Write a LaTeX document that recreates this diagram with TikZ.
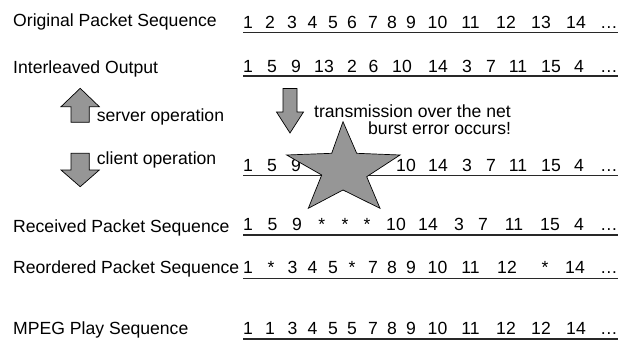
\documentclass[tikz,border=0pt]{standalone}
\usepackage{fontspec}
\setmainfont{Liberation Sans}
\definecolor{fillgray}{RGB}{150,150,150}
\definecolor{rulegray}{RGB}{40,40,40}
\begin{document}
\begin{tikzpicture}[x=1pt,y=-1pt,
  lbl/.style={anchor=base west, inner sep=0pt, font=\fontsize{17.6}{20}\selectfont},
  num/.style={anchor=base, inner sep=0pt, font=\fontsize{17.6}{20}\selectfont},
  rule/.style={line width=1.3pt, draw=rulegray},
  shapefill/.style={fill=fillgray, draw=black, line width=0.7pt, line join=miter}]
\useasboundingbox (0,0) rectangle (628,343);

% labels
\node[lbl] (lorig) at (13,26) {Original Packet Sequence};
\node[lbl] (linter) at (13,73.5) {Interleaved Output};
\node[lbl] (lrecv) at (13,232.7) {Received Packet Sequence};
\node[lbl] (lreord) at (13,273.3) {Reordered Packet Sequence};
\node[lbl] (lmpeg) at (13,334.3) {MPEG Play Sequence};

% row 1
\foreach \x/\t [count=\i] in {248/1,270/2,292/3,312.5/4,333/5,352/6,373/7,392/8,411/9,437.5/10,470.5/11,506/12,541/13,576/14,609/…}
  \node[num] (ra\i) at (\x,28) {\t};
% row 2
\foreach \x/\t [count=\i] in {248/1,272/5,296/9,324/13,352/2,373.5/6,402/10,438/14,467/3,491/7,518/11,551/15,579/4,609/…}
  \node[num] (rb\i) at (\x,72) {\t};
% row 3 (network)
\foreach \x/\t [count=\i] in {248/1,272/5,296/9,324/13,352/2,374/6,406/10,438/14,467/3,491/7,518/11,551/15,579/4,609/…}
  \node[num] (rc\i) at (\x,171.5) {\t};
% row 4
\foreach \x/\t [count=\i] in {248/1,272.5/5,297/9,321.7/*,345/*,367/*,396/10,428/14,459/3,483/7,514/11,550/15,579/4,609/…}
  \node[num] (rd\i) at (\x,230) {\t};
% row 5
\foreach \x/\t [count=\i] in {248/1,271/*,292.5/3,312.5/4,333/5,352/*,373/7,392/8,411/9,437.5/10,470.5/11,507/12,545/*,575/14,609/…}
  \node[num] (re\i) at (\x,273) {\t};
% row 6
\foreach \x/\t [count=\i] in {248/1,270/1,292.5/3,312.5/4,333/5,352/5,373/7,392/8,411/9,437.5/10,470.5/11,506/12,541/12,576/14,609/…}
  \node[num] (rf\i) at (\x,334) {\t};

% underlines
\foreach \y [count=\i] in {32.3,76,175.7,235,278.3,339} {
  \coordinate (ls\i) at (243.3,\y);
  \coordinate (le\i) at (617.7,\y);
  \draw[rule] (ls\i) -- (le\i);
}

% arrows
\draw[shapefill] (71,122.3) -- (71,106.7) -- (61,106.7) -- (80.2,88.3) -- (99.3,106.7) -- (89.3,106.7) -- (89.3,122.3) -- cycle;
\draw[shapefill] (71,153.3) -- (89.3,153.3) -- (89.3,170) -- (99.3,170) -- (80.2,186.7) -- (61,170) -- (71,170) -- cycle;
\draw[shapefill] (283,88.5) -- (297,88.5) -- (297,112) -- (303.5,112) -- (290,133) -- (276.5,112) -- (283,112) -- cycle;

% texts
\node[lbl] (tserver) at (96.7,121) {server operation};
\node[lbl] (tclient) at (96.7,164.3) {client operation};
\node[lbl] (ttrans) at (314,117) {transmission over the net};
\node[lbl] (tburst) at (368,134.5) {burst error occurs!};

% star
\draw[shapefill] (343,121.7) -- (356.7,153.3) -- (400,155) -- (366.7,176.7) -- (380,208.3) -- (343,190) -- (308.3,208.3) -- (321.7,175) -- (286.7,155) -- (331.7,153.3) -- cycle;
\end{tikzpicture}
\end{document}
